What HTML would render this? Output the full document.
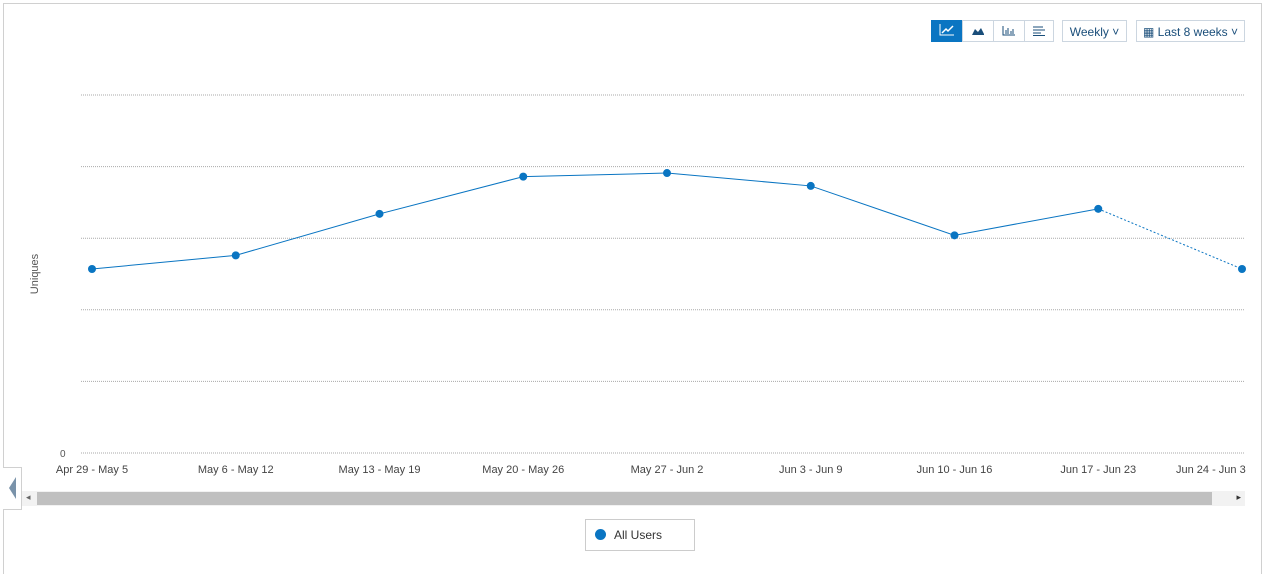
<!DOCTYPE html>
<html><head><meta charset="utf-8"><style>
body{margin:0;width:1271px;height:563px;background:#fff;font-family:"Liberation Sans",sans-serif;overflow:hidden;position:relative}
.frame{position:absolute;left:3px;top:3px;width:1257px;height:570px;border:1px solid #d0d0d0;border-bottom:none}
.btn{position:absolute;top:20px;height:22px;border:1px solid #ccd6e0;background:#fff;color:#1a4e7a;font-size:12px;line-height:22px;text-align:center;box-sizing:border-box}
</style></head><body>
<div class="frame"></div>
<div class="btn" style="left:931px;width:32px;background:#0a75c2;border-color:#0a75c2"><svg width="16" height="12" viewBox="0 0 16 12"><path d="M1 0V11H15" stroke="#fff" fill="none"/><path d="M3 9L7 5L9 7L14 2" stroke="#fff" stroke-width="1.5" fill="none"/></svg></div>
<div class="btn" style="left:962px;width:32px"><svg width="14" height="10" viewBox="0 0 14 10"><path d="M1 9L4 3L7 6L10 2L13 8V9Z" fill="#1a4e7a"/></svg></div>
<div class="btn" style="left:993px;width:32px"><svg width="14" height="10" viewBox="0 0 14 10"><path d="M1 0V9H13M4 4V8M6 2V8M9 5V8M11 3V8" stroke="#1a4e7a" fill="none"/></svg></div>
<div class="btn" style="left:1024px;width:30px"><svg width="12" height="10" viewBox="0 0 12 10"><path d="M0 1H10M0 4H12M0 7H8M0 9.5H12" stroke="#1a4e7a"/></svg></div>
<div class="btn" style="left:1062px;width:65px">Weekly ˅</div>
<div class="btn" style="left:1136px;width:109px">▦ Last 8 weeks ˅</div>
<svg id="chart" width="1271" height="563" style="position:absolute;left:0;top:0"><defs><clipPath id="cp"><rect x="0" y="0" width="1246" height="563"/></clipPath></defs><g id="g" clip-path="url(#cp)"></g></svg>
<div style="position:absolute;left:3px;top:467px;width:18px;height:41px;border:1px solid #d0d0d0;border-left:none;background:#fff"><svg width="18" height="41"><path d="M13 9L6 20L13 31Z" fill="#7a93aa"/></svg></div>
<div style="position:absolute;left:22px;top:491px;width:1223px;height:15px;background:#f2f2f2">
<div style="position:absolute;left:15px;top:1px;width:1175px;height:13px;background:#c0c0c0"></div>
<div style="position:absolute;left:4px;top:1px;font-size:9px;color:#666">◂</div>
<div style="position:absolute;right:4px;top:1px;font-size:9px;color:#333">▸</div></div>
<div style="position:absolute;left:585px;top:519px;width:110px;height:32px;border:1px solid #ccc;box-sizing:border-box;font-size:12px;color:#333;line-height:31px"><span style="display:inline-block;width:11px;height:11px;border-radius:50%;background:#0a75c2;margin:0 8px 0 9px;vertical-align:-1px"></span>All Users</div>
<script>
const categories=["Apr 29 - May 5","May 6 - May 12","May 13 - May 19","May 20 - May 26","May 27 - Jun 2","Jun 3 - Jun 9","Jun 10 - Jun 16","Jun 17 - Jun 23","Jun 24 - Jun 30"];
const values=[257,276,334,386,391,373,304,341,257];
const yTicks=[0,100,200,300,400,500];
const NS="http://www.w3.org/2000/svg",svg=document.getElementById('chart'),g=document.getElementById('g');
const x0=92,step=143.75,yBase=453,yTop=95,yMax=500;
const xs=i=>x0+i*step, ys=v=>yBase-(v/yMax)*(yBase-yTop);
function mk(t,a,par){const e=document.createElementNS(NS,t);for(const k in a)e.setAttribute(k,a[k]);(par||g).appendChild(e);return e;}
yTicks.forEach(t=>{const l=mk('line',{x1:81,x2:1245,y1:ys(t),y2:ys(t),stroke:'#aaa','stroke-dasharray':'1,1'});

});
const z=mk('text',{x:60,y:457,'font-size':10,fill:'#555'},svg);z.textContent='0';


const yt=mk('text',{x:38,y:274,'font-size':11,fill:'#555','text-anchor':'middle',transform:'rotate(-90 38 274)'},svg);yt.textContent='Uniques';


categories.forEach((c,i)=>{const last=i===categories.length-1;
const t=mk('text',last?{x:1176,y:473,'font-size':11,fill:'#444'}:{x:xs(i),y:473,'font-size':11,fill:'#444','text-anchor':'middle'});t.textContent=c;

});
const n=values.length;
let d=values.slice(0,n-1).map((v,i)=>(i?'L':'M')+xs(i)+' '+ys(v)).join('');
const p=mk('path',{d:d,stroke:'#0a75c2','stroke-width':1,fill:'none'});


const p2=mk('path',{d:'M'+xs(n-2)+' '+ys(values[n-2])+'L'+xs(n-1)+' '+ys(values[n-1]),stroke:'#0a75c2','stroke-dasharray':'2,2',fill:'none'});


values.forEach((v,i)=>{const c=mk('circle',{cx:xs(i),cy:ys(v),r:4,fill:'#0a75c2'});

});
</script>
</body></html>
